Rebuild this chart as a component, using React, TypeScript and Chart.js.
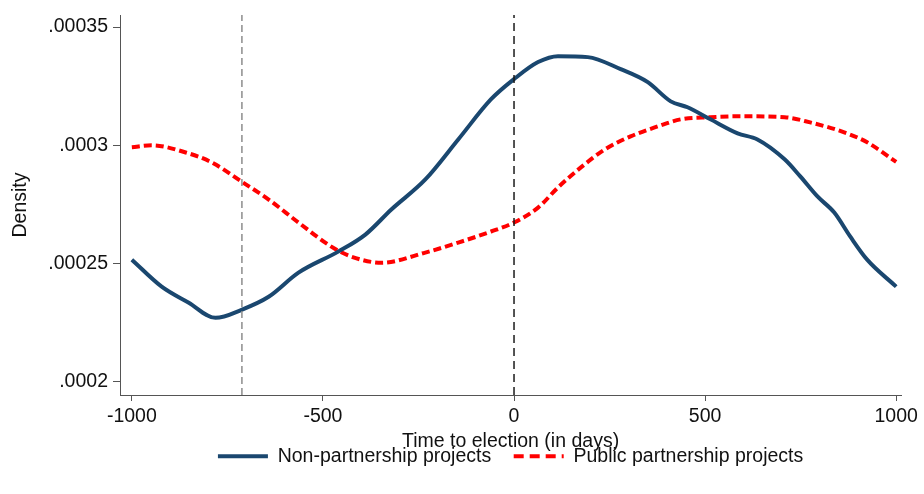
import React, { useEffect, useRef } from 'react';
import { Chart, registerables } from 'chart.js';

Chart.register(...registerables);

// Non-partnership projects (solid navy line)
const NON_X = [-1000, -922, -851, -781, -713, -642, -564, -460, -389, -321, -232, -146, -60, 0, 63, 115, 193, 279, 350, 410, 454, 514, 585, 637, 708, 749, 794, 838, 880, 924, 1000];
const NON_Y = [0.0002517, 0.0002403, 0.0002335, 0.0002271, 0.0002305, 0.000236, 0.0002462, 0.0002551, 0.0002623, 0.0002729, 0.0002856, 0.0003025, 0.0003195, 0.000328, 0.0003352, 0.0003377, 0.0003373, 0.0003322, 0.0003267, 0.0003186, 0.0003161, 0.000311, 0.0003051, 0.0003025, 0.0002941, 0.0002869, 0.0002784, 0.0002716, 0.0002614, 0.0002517, 0.0002403];

// Public partnership projects (dashed red line)
const PUB_X = [-1000, -948, -859, -791, -713, -642, -564, -478, -426, -347, -232, -146, -60, 0, 63, 115, 175, 238, 305, 376, 436, 514, 585, 708, 775, 864, 924, 1000];
const PUB_Y = [0.0002992, 0.0003, 0.000297, 0.0002928, 0.0002847, 0.0002771, 0.0002674, 0.0002572, 0.000253, 0.0002504, 0.0002547, 0.0002589, 0.0002636, 0.0002674, 0.0002737, 0.0002822, 0.0002907, 0.0002983, 0.0003038, 0.000308, 0.000311, 0.0003119, 0.0003123, 0.0003119, 0.0003097, 0.0003055, 0.0003013, 0.000293];

const X_TICKS = [-1000, -500, 0, 500, 1000];
const Y_TICKS = [0.0002, 0.00025, 0.0003, 0.00035];
const Y_TICK_LABELS = ['.0002', '.00025', '.0003', '.00035'];
const VLINES = [-712, 0];
const SERIES_LABELS = ['Non-partnership projects', 'Public partnership projects'];
const X_TITLE = 'Time to election (in days)';
const Y_TITLE = 'Density';

export default function App() {
  const ref = useRef<HTMLCanvasElement>(null);

  useEffect(() => {
    const FS = 19.5;
    const FONT = { family: "'Liberation Sans', Arial, Helvetica, sans-serif", size: FS, lineHeight: 1 };
    const X_MIN = -1031;
    const X_MAX = 1013;
    const Y_MIN = 0.0001945;
    const Y_MAX = 0.0003551;
    const BLUE = '#1a476f';
    const RED = '#ff0000';
    const AXIS = '#555555';
    const TEXT = '#111111';

    const pts = (xs: number[], ys: number[]) => xs.map((x, i) => ({ x, y: ys[i] }));
    const vline = (x: number, color: string, dash: number[], width: number) => ({
      label: '',
      data: [{ x, y: Y_MIN }, { x, y: Y_MAX }],
      borderColor: color,
      borderDash: dash,
      borderWidth: width,
      pointRadius: 0,
      fill: false,
    });

    const chart = new Chart(ref.current as HTMLCanvasElement, {
      type: 'line',
      data: {
        datasets: [
          vline(VLINES[0], '#8c8c8c', [7, 4], 1.5),
          vline(VLINES[1], '#1a1a1a', [8, 5], 1.5),
          {
            label: SERIES_LABELS[0],
            data: pts(NON_X, NON_Y),
            borderColor: BLUE,
            backgroundColor: BLUE,
            borderWidth: 4,
            pointRadius: 0,
            cubicInterpolationMode: 'monotone',
            fill: false,
            legendDash: [],
          },
          {
            label: SERIES_LABELS[1],
            data: pts(PUB_X, PUB_Y),
            borderColor: RED,
            backgroundColor: RED,
            borderWidth: 4,
            borderDash: [8, 4],
            pointRadius: 0,
            cubicInterpolationMode: 'monotone',
            fill: false,
            legendDash: [10, 6],
          },
        ] as any,
      },
      options: {
        animation: false,
        responsive: true,
        maintainAspectRatio: false,
        events: [],
        layout: { padding: { top: 15, right: 19, bottom: 18, left: 0 } },
        scales: {
          x: {
            type: 'linear',
            min: X_MIN,
            max: X_MAX,
            afterBuildTicks: (scale: any) => {
              scale.ticks = X_TICKS.map((v) => ({ value: v }));
            },
            afterFit: (scale: any) => {
              scale.height = 29;
            },
            ticks: {
              font: FONT,
              color: TEXT,
              padding: 6,
              maxRotation: 0,
              autoSkip: false,
              callback: (v: any) => String(v),
            },
            grid: { display: true, drawOnChartArea: false, drawTicks: true, tickLength: 6, color: AXIS, lineWidth: 1 },
            border: { display: true, color: AXIS, width: 1 },
            title: { display: true, text: X_TITLE, font: FONT, color: TEXT, padding: { top: 0, bottom: -27.75 } },
          },
          y: {
            type: 'linear',
            min: Y_MIN,
            max: Y_MAX,
            afterBuildTicks: (scale: any) => {
              scale.ticks = Y_TICKS.map((v) => ({ value: v }));
            },
            afterFit: (scale: any) => {
              scale.width = 120;
            },
            ticks: {
              font: FONT,
              color: TEXT,
              padding: 5,
              autoSkip: false,
              callback: (v: any) => {
                const i = Y_TICKS.findIndex((t) => Math.abs(t - Number(v)) < 1e-9);
                return i >= 0 ? Y_TICK_LABELS[i] : '';
              },
            },
            grid: { display: true, drawOnChartArea: false, drawTicks: true, tickLength: 7, color: AXIS, lineWidth: 1 },
            border: { display: true, color: AXIS, width: 1 },
            title: { display: true, text: Y_TITLE, font: FONT, color: TEXT, padding: { top: 11.25, bottom: 0 } },
          },
        },
        plugins: {
          tooltip: { enabled: false },
          legend: {
            display: true,
            position: 'bottom',
            fullSize: false,
            labels: {
              font: FONT,
              color: TEXT,
              usePointStyle: true,
              pointStyle: 'line',
              pointStyleWidth: 50,
              padding: 22.5,
              generateLabels: (ch: any) =>
                ch.data.datasets
                  .map((ds: any, i: number) => ({ ds, i }))
                  .filter(({ ds }: any) => ds.label)
                  .map(({ ds, i }: any) => ({
                    text: ds.label,
                    fillStyle: 'rgba(0,0,0,0)',
                    strokeStyle: ds.borderColor,
                    lineWidth: ds.borderWidth,
                    lineDash: ds.legendDash || [],
                    lineCap: 'butt',
                    pointStyle: 'line',
                    fontColor: TEXT,
                    hidden: false,
                    datasetIndex: i,
                  })),
            },
          },
        },
      } as any,
    });

    return () => chart.destroy();
  }, []);

  return (
    <div style={{ position: 'fixed', left: 0, top: 0, width: 924, height: 494, background: '#ffffff' }}>
      <canvas ref={ref} />
    </div>
  );
}
